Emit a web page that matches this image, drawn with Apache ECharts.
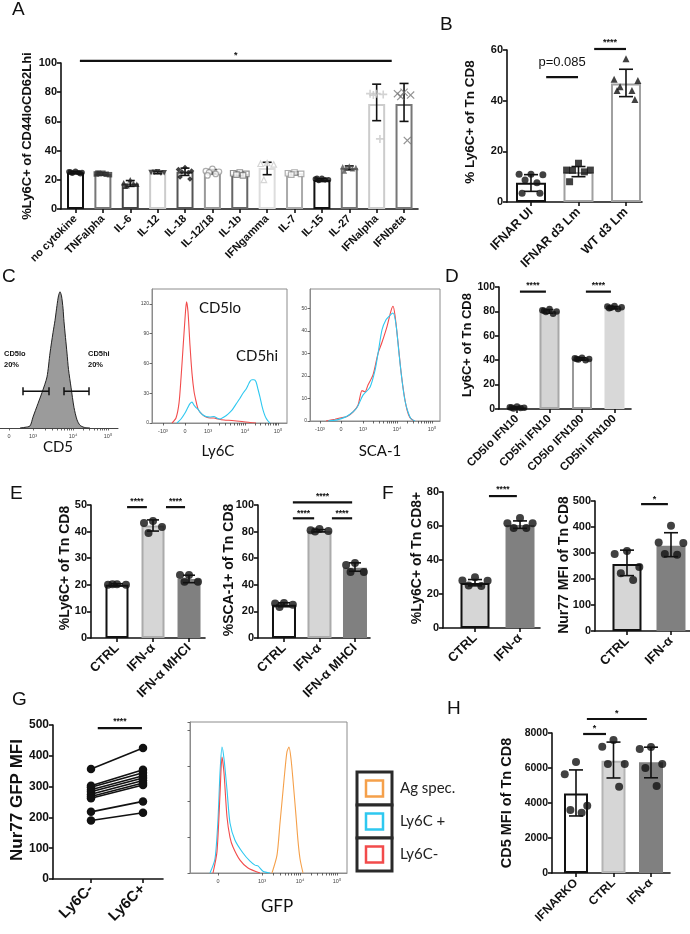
<!DOCTYPE html>
<html><head><meta charset="utf-8">
<script src="https://cdn.jsdelivr.net/npm/echarts@6/dist/echarts.min.js"></script>
<style>html,body{margin:0;padding:0;background:#fff}#c{width:690px;height:934px}</style>
</head><body><div id="c"></div>
<script>
// ---------------- DATA ----------------
// Panel A
const catsA = ['no cytokine','TNFalpha','IL-6','IL-12','IL-18','IL-12/18','IL-1b','IFNgamma','IL-7','IL-15','IL-27','IFNalpha','IFNbeta'];
const meanA = [25, 24, 17.5, 25, 25.5, 25.5, 24, 28, 24.5, 19.8, 28, 72, 72];
const loA   = [24.2, 23.2, 15.5, 24.2, 23, 24, 22.8, 23.5, 23.5, 18.8, 26.8, 60.5, 60];
const hiA   = [25.8, 24.8, 19.5, 25.8, 28, 27, 25.2, 32, 25.5, 20.8, 29.5, 85.5, 86];
const ptsA  = [
  [25.8,25.5,25,24.5,24.8,25.3,24.2],
  [24.5,24,23.5,24.2,23.8,24.6],
  [20,18,17,16,17.5,15.5],
  [25.5,25,24.8,25.2,24.5],
  [28.5,27,26,25.5,25,22,20.5],
  [27.5,26,25.5,25,24,23],
  [25,24.5,24,23.5,23],
  [31.5,31,30.5,20],
  [25,24.5,24,23.5],
  [21,20.5,20,19.5,20,21],
  [29.5,29,28.5,28,27.5,26],
  [79,79,78.5,78,48],
  [80,79,78,77,47]
];
// Panel B
const catsB = ['IFNAR UI','IFNAR d3 Lm','WT d3 Lm'];
const meanB = [7.6, 11.8, 46.8];
const loB   = [4.2, 10, 41.6];
const hiB   = [10.8, 14, 52.4];
const ptsB  = [[11,11,10.8,8.7,7.6,3.5,3.5],[15.3,12.6,12.6,12.5,11.9,8],[56.5,48.5,48,45.5,44,44,40.5]];
// Panel C flow histograms (display channel, count)
const c1Hist = [[20,0],[25,0.5],[30,1.5],[33,8],[38,18],[42,26],[47,37.5],[50,55],[53,70],[55,79],[57,90],[58.5,97],[60,100],[61.5,97],[63,88],[64,78],[67,55],[68.5,43],[71,30],[74,15],[77,6],[80,2],[84,0.5],[90,0]];
const c1Gates = [[23,49],[64,89]];
const c1GateY = 27;
const c2Red = [[20,0],[24,5],[27,20],[29,45],[31,75],[33,105],[34.5,122],[36,112],[38,78],[40,50],[42,32],[44,22],[46,14],[48,11],[51,8],[54,6],[58,5],[62,5],[66,4],[72,3],[80,2.5],[90,1.5],[98,0.5],[104,0]];
const c2Blue = [[25,0],[29,4],[33,10],[36,16],[38,19.5],[40,21],[42,18],[44,15.5],[46,14],[48,11],[51,8],[54,6.5],[58,6],[62,6.5],[65,5],[68,4],[72,6],[76,9],[80,13],[84,19],[88,25],[91,30],[94,34],[96,38],[98,42],[100,43.5],[102,43.5],[104,41.5],[106,34],[108,26],[110,17],[112,10],[114,5],[116,2],[118,0]];
const c3Red = [[16,0],[25,0.8],[32,1.5],[37,2],[43,4],[48,7],[52,13.5],[55,13],[58,16],[63,20.5],[68,30],[72,35],[77,42],[81,49],[83,51],[85,47],[88,35],[91,22],[94,12],[97,5],[100,1.5],[104,0]];
const c3Blue = [[18,0],[27,0.5],[34,1.5],[40,3],[47,6],[53,11.5],[60,15],[65,22.5],[68,30],[72,40.5],[76,45],[80,47],[83,48],[86,43],[89,30],[92,18],[95,9],[98,4],[101,1],[105,0]];
const tickLblsC1 = ['0','10³','10⁴','10⁵'];
const tickPosC1 = [9,33,73,108];
const tickLblsC2 = ['-10³','0','10³','10⁴','10⁵'];
const tickPosC2 = [11,33,56,93,126];
const tickPosC3 = [10,31,53,87,122];
// Panel D
const catsD = ['CD5lo IFN10','CD5hi IFN10','CD5lo IFN100','CD5hi IFN100'];
const meanD = [1, 80, 41, 83];
const loD   = [0.3, 78.5, 40, 82];
const hiD   = [1.7, 81.5, 42, 84];
const ptsD  = [[2,1.5,1,0.5,0.8,1.2],[82,81,80,79.5,78,80.5],[42,41.5,41,40.5,40,41],[84.5,84,83.5,83,82,82.5]];
// Panel E
const catsE = ['CTRL','IFN-α','IFN-α MHCI'];
const meanE1 = [20, 42.3, 22.2];
const loE1   = [19.6, 40.2, 20.8];
const hiE1   = [20.4, 44.4, 23.6];
const ptsE1  = [[20.2,20,20,20.2],[44,43.2,41.7,39.5],[23.7,23.7,21.1,21.1]];
const meanE2 = [25, 80.5, 52.8];
const loE2   = [23.5, 79.8, 50.2];
const hiE2   = [26.5, 81.5, 56.5];
const ptsE2  = [[26.3,26,25,23.3],[82,81,80.5,80],[56.4,54.9,49.6,49.6]];
// Panel F
const catsF = ['CTRL','IFN-α'];
const meanF1 = [26.5, 60.6];
const loF1   = [24.8, 58.6];
const hiF1   = [28.5, 63];
const ptsF1  = [[29.8,28,27.8,25,24.7],[64.7,61.6,61.6,58.8,58.8]];
const meanF2 = [258, 328];
const loF2   = [213, 286];
const hiF2   = [311, 378];
const ptsF2  = [[308,296,246,222,196],[405,340,338,296,293]];
// Panel G
const catsG = ['Ly6C-','Ly6C+'];
const ly6cNeg = [357,303,298,290,283,275,268,262,218,190];
const ly6cPos = [425,355,345,335,328,320,312,305,252,215];
const gfpBlue = [[20,0],[25,0.4],[28,1.5],[30,2.8],[32,3.53],[34,3.2],[37,2.33],[40,1.4],[45,0.92],[53,0.56],[60,0.33],[65,0.22],[68,0.2],[73,0.05],[80,0]];
const gfpRed = [[23,0],[27,0.6],[30,2.2],[32,3.25],[34,2.8],[37,1.57],[40,1.0],[43,0.73],[50,0.36],[58,0.14],[70,0]];
const gfpOrange = [[82,0],[87,0.5],[90,1.4],[93,2.3],[95,2.9],[97,3.4],[99,3.53],[101,3.2],[103,2.6],[106,1.6],[108,0.9],[110,0.4],[113,0]];
const tickLblsG = ['0','10³','10⁴','10⁵'];
const tickPosG = [28,72,110,147];
const legendG = ['Ag spec.','Ly6C +','Ly6C-'];
// Panel H
const catsH = ['IFNARKO','CTRL','IFN-α'];
const meanH = [4550, 6420, 6330];
const loH   = [3260, 5430, 5440];
const hiH   = [5890, 7480, 7190];
const ptsH  = [[6350,5650,3850,3600,3450],[7600,7220,6230,6230,4930],[7200,7090,6230,6000,4970]];

// ---------------- BUILD ----------------
const F = 'Liberation Sans';
const grid=[], xAxis=[], yAxis=[], series=[], graphic=[];
const JIT = [0,-1,1,-0.5,0.5,-0.75,0.75,-0.25,0.25];

function errRender(cap){
  return function(params, api){
    const x=api.value(0), lo=api.value(1), hi=api.value(2);
    const a=api.coord([x,lo]), b=api.coord([x,hi]);
    const s={stroke:'#111', lineWidth:1.6};
    return {type:'group', children:[
      {type:'line', shape:{x1:a[0],y1:a[1],x2:b[0],y2:b[1]}, style:s},
      {type:'line', shape:{x1:a[0]-cap/2,y1:a[1],x2:a[0]+cap/2,y2:a[1]}, style:s},
      {type:'line', shape:{x1:b[0]-cap/2,y1:b[1],x2:b[0]+cap/2,y2:b[1]}, style:s}
    ]};
  };
}
function sigSeries(gi, sigs){
  return {type:'custom', xAxisIndex:gi, yAxisIndex:gi, clip:false, z:6, silent:true,
    data: sigs.map(s=>[s[0],s[1],s[2]]), encode:{x:[0,1], y:2},
    renderItem:function(params, api){
      const s=sigs[params.dataIndex];
      const a=api.coord([api.value(0),api.value(2)]), b=api.coord([api.value(1),api.value(2)]);
      return {type:'group', children:[
        {type:'line', shape:{x1:a[0],y1:a[1],x2:b[0],y2:b[1]}, style:{stroke:'#111', lineWidth:2.2}},
        {type:'text', style:{text:s[3], x:(a[0]+b[0])/2, y:a[1]-(s[4]||5), align:'center', verticalAlign:'middle',
          fontSize:s[5]||9, fontFamily:F, fontWeight:s[6]||'bold', fill:'#111'}}
      ]};
    }};
}
function makeAxes(p){
  const gi=grid.length;
  grid.push({left:p.left, top:p.top, width:p.width, height:p.height});
  const idx=p.cats.map((c,i)=>i);
  xAxis.push({gridIndex:gi, type:'value', min:p.xmin, max:p.xmax,
    axisLine:{show:true, onZero:false, lineStyle:{color:'#111', width:1.6}},
    axisTick:{show:true, customValues:idx, length:4, lineStyle:{color:'#111', width:1.6}},
    axisLabel:{show:true, customValues:idx, formatter:v=>p.cats[Math.round(v)], rotate:45, margin:8,
      fontSize:p.xfs, fontWeight:'bold', fontFamily:F, color:'#111'},
    splitLine:{show:false}});
  yAxis.push({gridIndex:gi, type:'value', min:0, max:p.ymax, interval:p.interval,
    axisLine:{show:true, onZero:false, lineStyle:{color:'#111', width:1.6}},
    axisTick:{show:true, length:4, lineStyle:{color:'#111', width:1.6}},
    axisLabel:{fontSize:p.yfs, fontWeight:'bold', fontFamily:F, color:'#111', margin:4, formatter:v=>String(v)},
    splitLine:{show:false}});
  return gi;
}
function barPanel(p){
  const gi=makeAxes(p);
  series.push({type:'bar', xAxisIndex:gi, yAxisIndex:gi, barWidth:p.barWidth, z:2, silent:true,
    data:p.means.map((v,i)=>({value:[i,v], itemStyle:{color:p.fills[i], borderColor:p.strokes[i], borderWidth:p.bw||2}}))});
  series.push({type:'custom', xAxisIndex:gi, yAxisIndex:gi, clip:false, z:4, silent:true,
    data:p.means.map((v,i)=>[i,p.lo[i],p.hi[i]]), encode:{x:0, y:[1,2]}, renderItem:errRender(p.cap)});
  p.pts.forEach((arr,i)=>{
    const m=p.markers?p.markers[i]:{symbol:'circle', color:'#111'};
    series.push({type:'scatter', xAxisIndex:gi, yAxisIndex:gi, z:5, silent:true, symbol:m.symbol, symbolSize:m.size||p.ps,
      itemStyle:m.hollow?{color:'#fff', borderColor:m.color, borderWidth:1.2}:{color:m.color},
      data:arr.map((v,j)=>[i+JIT[j%9]*p.spread, v])});
  });
  if(p.sigs) series.push(sigSeries(gi,p.sigs));
  return gi;
}
function minorTicks(pos, lbls){
  const out=pos.slice();
  for(let i=0;i<lbls.length-1;i++){
    if(lbls[i].indexOf('10')===0 && lbls[i+1].indexOf('10')===0){
      for(let k=2;k<10;k++) out.push(pos[i]+(pos[i+1]-pos[i])*Math.log10(k));
    }
  }
  return out;
}
function flowPanel(p){
  const gi=grid.length;
  grid.push({left:p.left, top:p.top, width:p.width, height:p.height, show:!!p.box, borderColor:'#8c8c8c', borderWidth:1});
  xAxis.push({gridIndex:gi, type:'value', min:0, max:p.width,
    axisLine:{show:true, onZero:false, lineStyle:{color:p.box?'#8c8c8c':'#444', width:1}},
    axisTick:{show:true, customValues:minorTicks(p.ticks,p.lbls), length:2.5, lineStyle:{color:'#444', width:0.8}},
    axisLabel:{show:true, customValues:p.ticks, margin:5, fontSize:5.5, color:'#444', fontFamily:F,
      formatter:v=>{const k=p.ticks.findIndex(t=>Math.abs(t-v)<0.01); return k>=0?p.lbls[k]:'';}},
    splitLine:{show:false}});
  yAxis.push({gridIndex:gi, type:'value', min:0, max:p.ymax, interval:p.yint, show:p.yshow!==false,
    axisLine:{show:true, onZero:false, lineStyle:{color:'#8c8c8c', width:1}},
    axisTick:{show:true, length:2.5, lineStyle:{color:'#444', width:0.8}},
    axisLabel:{show:p.ylabels!==false, showMaxLabel:false, fontSize:5, color:'#444', margin:3, fontFamily:F},
    splitLine:{show:false}});
  p.curves.forEach(c=>{
    series.push({type:'line', xAxisIndex:gi, yAxisIndex:gi, data:c.data, showSymbol:false, smooth:0.25, silent:true,
      lineStyle:{color:c.color, width:c.width||1.1}, areaStyle:c.fill?{color:c.fill, opacity:1}:undefined, z:3});
  });
  return gi;
}

// ---- A ----
const inv='path://M0,0L10,0L5,9Z', plus='path://M4,0H6V4H10V6H6V10H4V6H0V4H4Z', cross='path://M1,0L5,4L9,0L10,1L6,5L10,9L9,10L5,6L1,10L0,9L4,5L0,1Z';
const markA=[
  {symbol:'circle',color:'#111'},{symbol:'rect',color:'#333'},{symbol:'triangle',color:'#222'},{symbol:inv,color:'#222'},
  {symbol:'diamond',color:'#111'},{symbol:'circle',color:'#999',hollow:true},{symbol:'rect',color:'#777',hollow:true},
  {symbol:'triangle',color:'#ccc',hollow:true},{symbol:'rect',color:'#999',hollow:true},{symbol:'circle',color:'#111'},
  {symbol:'triangle',color:'#555'},{symbol:plus,color:'#c8c8c8',size:8},{symbol:cross,color:'#777',size:8}
];
barPanel({left:61, top:63, width:357, height:146, xmin:-0.53, xmax:12.51, ymax:100, interval:20,
  cats:catsA, means:meanA, lo:loA, hi:hiA, pts:ptsA, markers:markA, ps:5.5, spread:0.24,
  fills:Array(13).fill('#fff'),
  strokes:['#111','#777','#444','#ccc','#555','#999','#666','#ddd','#aaa','#111','#777','#ccc','#777'],
  barWidth:17, cap:9, xfs:11, yfs:11,
  sigs:[[0.16,11.55,101.4,'*',5,9]]});
// ---- B ----
barPanel({left:507, top:50, width:135, height:152, xmin:-0.505, xmax:2.337, ymax:60, interval:20,
  cats:catsB, means:meanB, lo:loB, hi:hiB, pts:ptsB,
  markers:[{symbol:'circle',color:'#111'},{symbol:'rect',color:'#111'},{symbol:'triangle',color:'#111'}], ps:7, spread:0.25,
  fills:['#fff','#fff','#fff'], strokes:['#111','#a0a0a0','#a0a0a0'], barWidth:30, cap:14, xfs:12.5, yfs:11,
  sigs:[[0.32,0.99,49.3,'p=0.085',15,13,'normal'],[1.33,2.0,60.4,'****',6,9]]});
// ---- C ----
flowPanel({left:0, top:285, width:118, height:143, ymax:105, yint:20, yshow:false, box:false,
  ticks:tickPosC1, lbls:tickLblsC1, curves:[{data:c1Hist, color:'#222', fill:'#9b9b9b', width:1}]});
flowPanel({left:152, top:289, width:135, height:134, ymax:135, yint:30, box:true,
  ticks:tickPosC2, lbls:tickLblsC2, curves:[{data:c2Red, color:'#f24b4b'},{data:c2Blue, color:'#2ec8f0'}]});
flowPanel({left:310, top:289, width:130, height:132, ymax:58.7, yint:10, box:true,
  ticks:tickPosC3, lbls:tickLblsC2, curves:[{data:c3Red, color:'#f24b4b'},{data:c3Blue, color:'#2ec8f0'}]});
series.push({type:'custom', xAxisIndex:2, yAxisIndex:2, clip:false, z:6, silent:true,
  data:c1Gates.map(g=>[g[0],g[1],c1GateY]), encode:{x:[0,1],y:2},
  renderItem:function(params, api){
    const a=api.coord([api.value(0),api.value(2)]), b=api.coord([api.value(1),api.value(2)]);
    const s={stroke:'#111', lineWidth:1.5};
    return {type:'group', children:[
      {type:'line', shape:{x1:a[0],y1:a[1],x2:b[0],y2:b[1]}, style:s},
      {type:'line', shape:{x1:a[0],y1:a[1]-4,x2:a[0],y2:a[1]+4}, style:s},
      {type:'line', shape:{x1:b[0],y1:b[1]-4,x2:b[0],y2:b[1]+4}, style:s}]};
  }});
// ---- D ----
barPanel({left:499, top:287, width:132, height:122, xmin:-0.554, xmax:3.508, ymax:100, interval:20,
  cats:catsD, means:meanD, lo:loD, hi:hiD, pts:ptsD, ps:6.5, spread:0.22,
  fills:['#fff','#d4d4d4','#fff','#d8d8d8'], strokes:['#111','#a8a8a8','#999','#d8d8d8'], barWidth:20, cap:8, xfs:11.5, yfs:10.5,
  sigs:[[0.09,0.89,96.2,'****',6,8.5],[2.12,2.89,96.2,'****',6,8.5]]});
// ---- E ----
barPanel({left:91, top:505, width:114, height:133, xmin:-0.722, xmax:2.444, ymax:50, interval:10,
  cats:catsE, means:meanE1, lo:loE1, hi:hiE1, pts:ptsE1, ps:8, spread:0.25,
  fills:['#fff','#d6d6d6','#808080'], strokes:['#111','#ababab','#808080'], barWidth:23, cap:12, xfs:13, yfs:11,
  sigs:[[0.28,0.83,49.2,'****',5,8.5],[1.36,1.89,49.2,'****',5,8.5]]});
barPanel({left:258, top:505, width:112, height:133, xmin:-0.732, xmax:2.423, ymax:100, interval:20,
  cats:catsE, means:meanE2, lo:loE2, hi:hiE2, pts:ptsE2, ps:8, spread:0.25,
  fills:['#fff','#d6d6d6','#808080'], strokes:['#111','#ababab','#808080'], barWidth:24, cap:12, xfs:13, yfs:11,
  sigs:[[0.25,1.92,102,'****',6,8.5],[0.25,0.85,90,'****',5,8.5],[1.35,1.92,90,'****',5,8.5]]});
// ---- F ----
barPanel({left:443, top:492, width:97, height:136, xmin:-0.711, xmax:1.444, ymax:80, interval:20,
  cats:catsF, means:meanF1, lo:loF1, hi:hiF1, pts:ptsF1, ps:8, spread:0.28,
  fills:['#d6d6d6','#808080'], strokes:['#111','#808080'], barWidth:29, cap:14, xfs:13, yfs:11,
  sigs:[[0.31,0.93,77.6,'****',6,8.5]]});
barPanel({left:595, top:501, width:95, height:130, xmin:-0.727, xmax:1.432, ymax:500, interval:100,
  cats:catsF, means:meanF2, lo:loF2, hi:hiF2, pts:ptsF2, ps:8, spread:0.28,
  fills:['#d6d6d6','#808080'], strokes:['#111','#808080'], barWidth:29, cap:14, xfs:13, yfs:11,
  sigs:[[0.32,0.93,488,'*',5,9]]});
// ---- G ----
const gG = makeAxes({left:53, top:725, width:110, height:154, xmin:-0.731, xmax:1.385, ymax:500, interval:100,
  cats:catsG, xfs:15, yfs:12});
ly6cNeg.forEach((v,i)=>{
  series.push({type:'line', xAxisIndex:gG, yAxisIndex:gG, data:[[0,v],[1,ly6cPos[i]]], symbol:'circle', symbolSize:8.5,
    silent:true, lineStyle:{color:'#111', width:1.6}, itemStyle:{color:'#111'}, z:4});
});
series.push(sigSeries(gG, [[0.13,0.98,490,'****',6,8.5]]));
flowPanel({left:190, top:722, width:157, height:151, ymax:4.23, yint:1, box:true, ylabels:false,
  ticks:tickPosG, lbls:tickLblsG, curves:[{data:gfpOrange, color:'#f5a04a'},{data:gfpBlue, color:'#2ec8f0'},{data:gfpRed, color:'#f24b4b'}]});
// ---- H ----
barPanel({left:552, top:733, width:118, height:140, xmin:-0.64, xmax:2.507, ymax:8000, interval:2000,
  cats:catsH, means:meanH, lo:loH, hi:hiH, pts:ptsH, ps:8, spread:0.3,
  fills:['#fff','#d6d6d6','#808080'], strokes:['#111','#b4b4b4','#808080'], barWidth:24, cap:14, xfs:12, yfs:10.5,
  sigs:[[0.19,0.8,7943,'*',5,9],[0.29,1.89,8800,'*',5,9]]});

// ---- texts ----
function txt(t,x,y,size,opt){
  opt=opt||{};
  graphic.push({type:'text', x:x, y:y, rotation:opt.rot||0, silent:true,
    style:{text:t, x:0, y:0, align:opt.align||'left', verticalAlign:opt.va||'top',
      fontSize:size, fontFamily:opt.family||F, fontWeight:opt.weight||'normal', fill:opt.color||'#111'}});
}
[['A',12,0],['B',440,15],['C',2,267],['D',445,267],['E',10,484],['F',382,484],['G',12,690],['H',447,699]]
  .forEach(l=>txt(l[0],l[1],l[2],19));
const R=Math.PI/2, mid={align:'center', va:'middle', rot:R, weight:'bold'};
txt('%Ly6C+ of CD44loCD62Lhi',27,136,13,mid);
txt('% Ly6C+ of Tn CD8',470,122,13.5,mid);
txt('Ly6C+ of Tn CD8',467,345,13,mid);
txt('%Ly6C+ of Tn CD8',65,568,14,mid);
txt('%SCA-1+ of Tn CD8',229,570,14,mid);
txt('%Ly6C+ of Tn CD8+',417,558,14,mid);
txt('Nur77 MFI of Tn CD8',564,565,14,mid);
txt('Nur77 GFP MFI',17,800,17,mid);
txt('CD5 MFI of Tn CD8',507,803,14.5,mid);
// flow labels
txt('CD5lo',4,350,7.5,{weight:'bold'}); txt('20%',4,361,7.5,{weight:'bold'});
txt('CD5hi',88,350,7.5,{weight:'bold'}); txt('20%',88,361,7.5,{weight:'bold'});
const fl={align:'center', va:'middle', family:'Lato'};
txt('CD5',58,447,15,fl);
txt('CD5lo',220,308,15,fl);
txt('CD5hi',257,356,15,fl);
txt('Ly6C',218,451,15,fl);
txt('SCA-1',380,451,15,fl);
txt('GFP',277,907,17,fl);
// legend G
const legCols=['#f5a04a','#2ec8f0','#f24b4b'];
legendG.forEach((t,i)=>{
  const y0=772+i*33;
  graphic.push({type:'rect', silent:true, shape:{x:357,y:y0,width:35,height:33}, style:{fill:'#fff', stroke:'#2a2a2a', lineWidth:3}});
  graphic.push({type:'rect', silent:true, shape:{x:366,y:y0+8.5,width:17,height:16}, style:{fill:'none', stroke:legCols[i], lineWidth:2.5}});
  txt(t,400,y0+16.5,15,{va:'middle', family:'Lato', color:'#222'});
});

const chart=echarts.init(document.getElementById('c'),null,{renderer:'canvas'});
chart.setOption({animation:false, backgroundColor:'#fff', grid:grid, xAxis:xAxis, yAxis:yAxis, series:series, graphic:graphic});
</script></body></html>
